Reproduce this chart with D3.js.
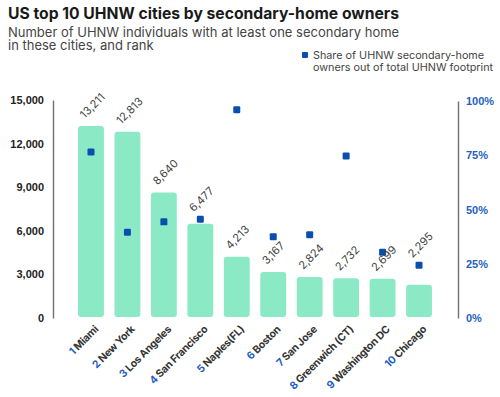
<!DOCTYPE html>
<html>
<head>
<meta charset="utf-8">
<script src="https://cdn.jsdelivr.net/npm/d3@7"></script>
<style>
  body { margin: 0; background: #fff; }
  svg { font-family: Inter, "Noto Sans", sans-serif; }
</style>
</head>
<body>
<script>
// data
var ranks = [1, 2, 3, 4, 5, 6, 7, 8, 9, 10];
var cities = ["Miami", "New York", "Los Angeles", "San Francisco", "Naples(FL)",
              "Boston", "San Jose", "Greenwich (CT)", "Washington DC", "Chicago"];
var owners = [13211, 12813, 8640, 6477, 4213, 3167, 2824, 2732, 2699, 2295];
var share = [76.5, 39.5, 44.3, 45.5, 96, 37.5, 38.4, 74.7, 30.3, 24.3];
var leftTicks = [0, 3000, 6000, 9000, 12000, 15000];
var rightTicks = [0, 25, 50, 75, 100];

var W = 500, H = 397;
var barCol = "#8ce9c5", dotCol = "#0b4fae", blue = "#1f5fc2";

var svg = d3.select("body").append("svg")
    .attr("width", W)
    .attr("height", H);

// titles
svg.append("text")
    .attr("x", 8).attr("y", 19)
    .style("font-size", "15.7px").style("font-weight", 700)
    .attr("fill", "#1a1a1a")
    .text("US top 10 UHNW cities by secondary-home owners");
svg.append("text")
    .attr("x", 8).attr("y", 37)
    .style("font-size", "13px")
    .attr("fill", "#444")
    .text("Number of UHNW individuals with at least one secondary home");
svg.append("text")
    .attr("x", 8).attr("y", 50)
    .style("font-size", "13px")
    .attr("fill", "#444")
    .text("in these cities, and rank");

// legend
svg.append("rect")
    .attr("x", 302).attr("y", 52)
    .attr("width", 6).attr("height", 6).attr("rx", 1)
    .attr("fill", dotCol);
svg.append("text")
    .attr("x", 313).attr("y", 59)
    .style("font-size", "10.8px")
    .attr("fill", "#444")
    .text("Share of UHNW secondary-home");
svg.append("text")
    .attr("x", 313).attr("y", 70.5)
    .style("font-size", "10.8px")
    .attr("fill", "#444")
    .text("owners out of total UHNW footprint");

// scales
var x = d3.scaleBand()
    .domain(cities)
    .range([72.75, 437.25])
    .paddingInner(0.29)
    .paddingOuter(0.145);
var y = d3.scaleLinear().domain([0, 15000]).range([318, 100]);
var y2 = d3.scaleLinear().domain([0, 100]).range([318, 101]);

// axes
var axL = svg.append("g")
    .attr("transform", "translate(53,0)")
    .call(d3.axisLeft(y).tickValues(leftTicks).tickSize(0).tickPadding(9)
        .tickFormat(d3.format(",")));
axL.select(".domain").attr("stroke", "#777").attr("stroke-width", 1.5);
axL.selectAll("text")
    .style("font-size", "11px").style("font-weight", 700)
    .attr("fill", "#222").attr("font-family", null);

var axR = svg.append("g")
    .attr("transform", "translate(458,0)")
    .call(d3.axisRight(y2).tickValues(rightTicks).tickSize(0).tickPadding(8)
        .tickFormat(function (d) { return d + "%"; }));
axR.select(".domain").attr("stroke", "#777").attr("stroke-width", 1.5);
axR.selectAll("text")
    .style("font-size", "11px").style("font-weight", 700)
    .attr("fill", blue).attr("font-family", null);

// bars
svg.selectAll("rect.bar")
    .data(cities)
    .enter().append("rect")
    .attr("class", "bar")
    .attr("x", function (d) { return x(d); })
    .attr("y", function (d, i) { return y(owners[i]); })
    .attr("width", x.bandwidth())
    .attr("height", function (d, i) { return y(0) - 1 - y(owners[i]); })
    .attr("rx", 3)
    .attr("fill", barCol);

// share points
svg.selectAll("rect.dot")
    .data(cities)
    .enter().append("rect")
    .attr("class", "dot")
    .attr("x", function (d) { return x(d) + x.bandwidth() / 2 - 3.5; })
    .attr("y", function (d, i) { return y2(share[i]) - 3.5; })
    .attr("width", 7).attr("height", 7).attr("rx", 1.2)
    .attr("fill", dotCol);

// value labels, lifted over a point that sits just above the bar
svg.selectAll("text.val")
    .data(cities)
    .enter().append("text")
    .attr("class", "val")
    .attr("transform", function (d, i) {
        var cx = x(d) + x.bandwidth() / 2 - 6.5;
        var top = y(owners[i]), py = y2(share[i]);
        var gap = top - py;
        var ly = top - 7;
        if (gap >= -8 && gap < 20) ly = py - 7;
        return "translate(" + cx + "," + ly + ") rotate(-45)";
    })
    .style("font-size", "11px")
    .attr("fill", "#444")
    .text(function (d, i) { return d3.format(",")(owners[i]); });

// category labels
var cat = svg.selectAll("text.cat")
    .data(cities)
    .enter().append("text")
    .attr("class", "cat")
    .attr("text-anchor", "end")
    .attr("transform", function (d) {
        return "translate(" + (x(d) + x.bandwidth() / 2 + 8) + ",330) rotate(-45)";
    })
    .style("font-size", "10.5px").style("font-weight", 700)
    .style("letter-spacing", "-0.3px");
cat.append("tspan").attr("fill", blue)
    .text(function (d, i) { return ranks[i] + " "; });
cat.append("tspan").attr("fill", "#333")
    .text(function (d) { return d; });
</script>
</body>
</html>
